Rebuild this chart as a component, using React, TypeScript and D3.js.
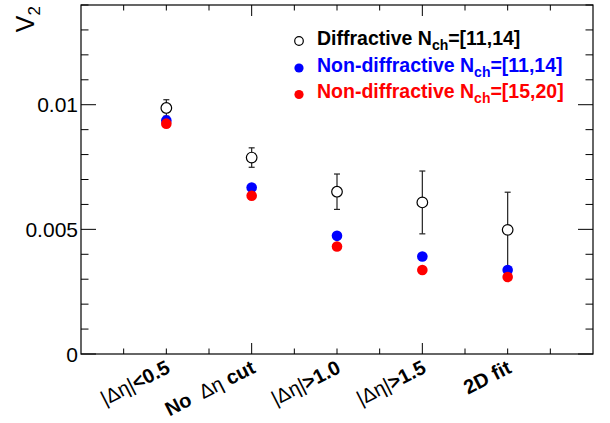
import { useEffect, useRef } from 'react'
import * as d3 from 'd3'

// categories along x (ROOT bin labels)
const categories = ['|Δη|<0.5', 'No  Δη cut', '|Δη|>1.0', '|Δη|>1.5', '2D fit']

// v2 values
const diffV2 = [0.00987, 0.00788, 0.00651, 0.00608, 0.00498]
const diffErr = [0.00033, 0.00039, 0.00071, 0.00126, 0.00151]
const nonDiff1114 = [0.00937, 0.00668, 0.00474, 0.00391, 0.00337]
const nonDiff1520 = [0.00924, 0.00635, 0.00431, 0.00337, 0.00309]

const yTickValues = [0, 0.005, 0.01]
const yTickLabels = ['0', '0.005', '0.01']

const legendNames = ['Diffractive N', 'Non-diffractive N', 'Non-diffractive N']
const legendRanges = ['=[11,14]', '=[11,14]', '=[15,20]']
const legendColors = ['#000000', '#0000ff', '#ff0000']

const W = 610
const H = 423
const FONT = '"Liberation Sans", Arial, Helvetica, sans-serif'

export default function App() {
  const svgRef = useRef<SVGSVGElement>(null)

  useEffect(() => {
    if (!svgRef.current) return
    const svg = d3.select(svgRef.current)
    svg.selectAll('*').remove()

    const margin = { top: 5, right: 17, bottom: 69, left: 81 }
    const x0 = margin.left
    const x1 = W - margin.right
    const y0 = H - margin.bottom
    const y1 = margin.top

    // x axis runs 0..6, categories sit at 1..5
    const x = d3.scaleLinear().domain([0, 6]).range([x0, x1])
    const y = d3.scaleLinear().domain([0, 0.014]).range([y0, y1])

    // frame
    svg.append('rect')
      .attr('x', x0).attr('y', y1)
      .attr('width', x1 - x0).attr('height', y0 - y1)
      .attr('fill', 'none').attr('stroke', '#000').attr('stroke-width', 1.2)

    // y ticks (left + mirrored right)
    const yMinor = d3.range(0, 0.0141, 0.001)
    yMinor.forEach(v => {
      const major = Math.abs(Math.round(v * 1000) % 5) === 0
      const len = major ? 15 : 7.5
      svg.append('line')
        .attr('x1', x0).attr('x2', x0 + len)
        .attr('y1', y(v)).attr('y2', y(v))
        .attr('stroke', '#000').attr('stroke-width', 1)
      svg.append('line')
        .attr('x1', x1).attr('x2', x1 - len)
        .attr('y1', y(v)).attr('y2', y(v))
        .attr('stroke', '#000').attr('stroke-width', 1)
    })

    // x ticks (bottom + mirrored top)
    const xMinor = d3.range(0.5, 6, 0.5)
    xMinor.forEach(v => {
      const major = v % 2 === 0
      const len = major ? 11 : 5.5
      svg.append('line')
        .attr('x1', x(v)).attr('x2', x(v))
        .attr('y1', y0).attr('y2', y0 - len)
        .attr('stroke', '#000').attr('stroke-width', 1)
      svg.append('line')
        .attr('x1', x(v)).attr('x2', x(v))
        .attr('y1', y1).attr('y2', y1 + len)
        .attr('stroke', '#000').attr('stroke-width', 1)
    })

    // y tick labels
    svg.append('g')
      .selectAll('text')
      .data(yTickValues)
      .join('text')
      .attr('x', x0 - 3)
      .attr('y', d => y(d))
      .attr('dy', '0.36em')
      .attr('text-anchor', 'end')
      .style('font-family', FONT)
      .style('font-size', '21px')
      .text((d, i) => yTickLabels[i])

    // y title V_2
    const yt = svg.append('g')
      .attr('transform', 'translate(34,6) rotate(-90)')
      .append('text')
      .attr('text-anchor', 'end')
      .style('font-family', FONT)
      .style('font-size', '25px')
    yt.append('tspan').text('V')
    yt.append('tspan').attr('dy', 6).style('font-size', '17px').text('2')

    // category labels, rotated; |, Δ, η drawn thin like ROOT's symbol font
    categories.forEach((label, i) => {
      const cx = x(i + 1) + 5
      const t = svg.append('g')
        .attr('transform', `translate(${cx},372) rotate(-27)`)
        .append('text')
        .attr('x', 0).attr('y', 0)
        .attr('text-anchor', 'end')
        .style('font-family', FONT)
        .style('font-size', '20px')
        .style('font-weight', 'bold')
        .style('white-space', 'pre')
      label.split(/([|Δη]+)/).filter(s => s.length > 0).forEach(part => {
        const thin = /^[|Δη]+$/.test(part)
        t.append('tspan')
          .style('font-weight', thin ? 'normal' : 'bold')
          .text(part)
      })
    })

    // diffractive: error bars + open circles
    const r = 5.3
    const g = svg.append('g')
    diffV2.forEach((v, i) => {
      const cx = x(i + 1)
      const e = diffErr[i]
      g.append('line')
        .attr('x1', cx).attr('x2', cx)
        .attr('y1', y(v + e)).attr('y2', y(v - e))
        .attr('stroke', '#222').attr('stroke-width', 1.2)
      ;[v + e, v - e].forEach(ev => {
        g.append('line')
          .attr('x1', cx - 3).attr('x2', cx + 3)
          .attr('y1', y(ev)).attr('y2', y(ev))
          .attr('stroke', '#222').attr('stroke-width', 1.2)
      })
      g.append('circle')
        .attr('cx', cx).attr('cy', y(v)).attr('r', r)
        .attr('fill', '#fff').attr('stroke', '#000').attr('stroke-width', 1.2)
    })

    svg.append('g')
      .selectAll('circle')
      .data(nonDiff1114)
      .join('circle')
      .attr('cx', (d, i) => x(i + 1))
      .attr('cy', d => y(d))
      .attr('r', r)
      .attr('fill', '#0000ff')

    svg.append('g')
      .selectAll('circle')
      .data(nonDiff1520)
      .join('circle')
      .attr('cx', (d, i) => x(i + 1))
      .attr('cy', d => y(d))
      .attr('r', r)
      .attr('fill', '#ff0000')

    // legend
    const legend = svg.append('g').attr('transform', 'translate(299,0)')
    legendNames.forEach((name, i) => {
      const base = 45 + i * 26.5
      if (i === 0) {
        legend.append('circle')
          .attr('cx', 0).attr('cy', base - 4).attr('r', 4.3)
          .attr('fill', '#fff').attr('stroke', '#000').attr('stroke-width', 1.2)
      } else {
        legend.append('circle')
          .attr('cx', 0).attr('cy', base - 3.5).attr('r', 4.6)
          .attr('fill', legendColors[i])
      }
      const t = legend.append('text')
        .attr('x', 18).attr('y', base)
        .attr('fill', legendColors[i])
        .style('font-family', FONT)
        .style('font-size', '19.5px')
        .style('font-weight', 'bold')
      t.append('tspan').text(name)
      t.append('tspan').attr('dy', 5).style('font-size', '14px').text('ch')
      t.append('tspan').attr('dy', -5).text(legendRanges[i])
    })
  }, [])

  return (
    <svg
      ref={svgRef}
      width={W}
      height={H}
      style={{ position: 'absolute', left: 0, top: 0, background: '#fff' }}
    />
  )
}
